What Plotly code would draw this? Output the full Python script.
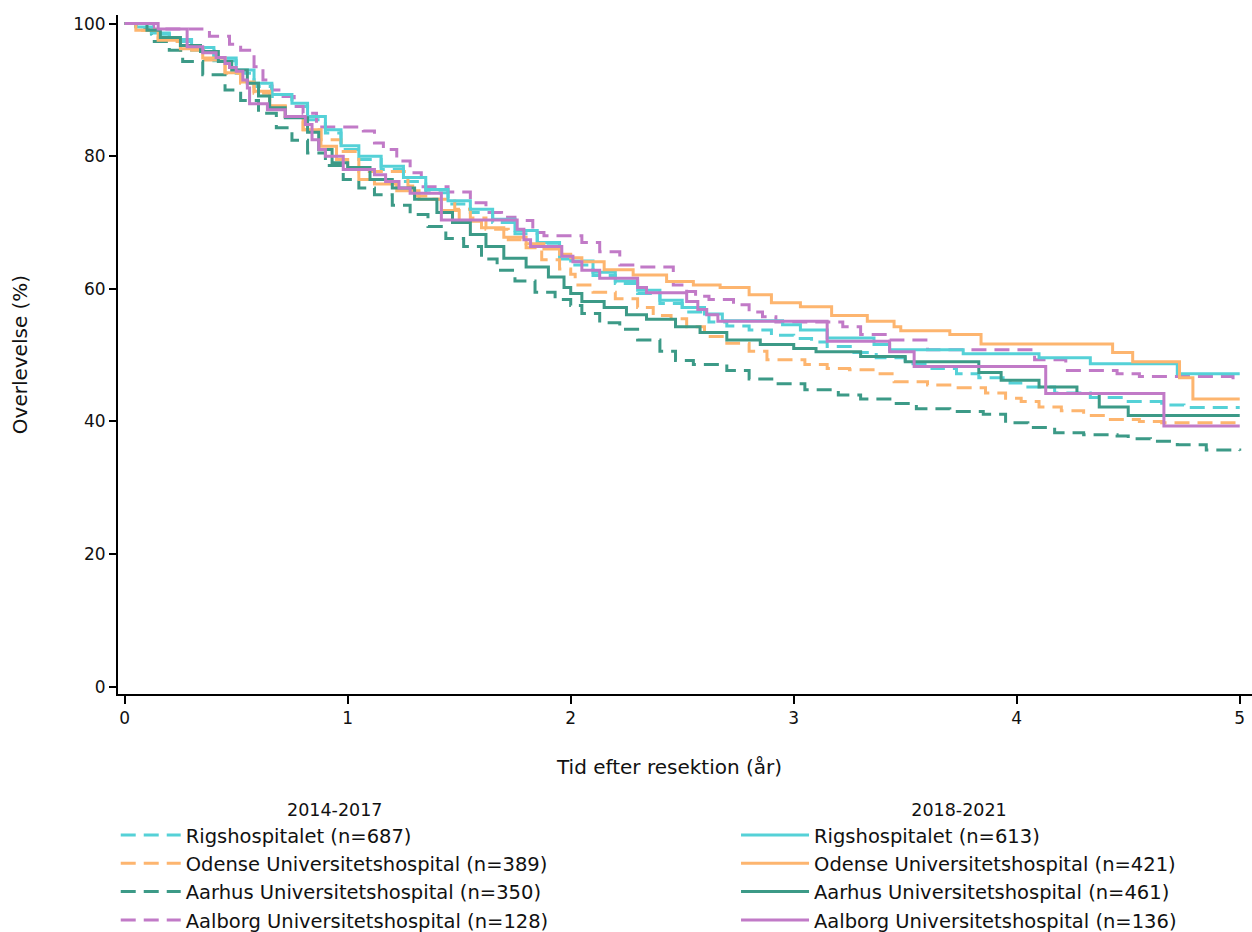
import plotly.graph_objects as go

# ---- data ----
labels_1417 = ["Rigshospitalet (n=687)", "Odense Universitetshospital (n=389)",
               "Aarhus Universitetshospital (n=350)", "Aalborg Universitetshospital (n=128)"]
labels_1821 = ["Rigshospitalet (n=613)", "Odense Universitetshospital (n=421)",
               "Aarhus Universitetshospital (n=461)", "Aalborg Universitetshospital (n=136)"]

rigs_1417_t = [0, 0.05, 0.12, 0.2, 0.3, 0.4, 0.5, 0.58, 0.66, 0.75, 0.82, 0.9, 0.97, 1.05, 1.15, 1.25, 1.35, 1.45, 1.55, 1.65, 1.75, 1.85, 1.95, 2.0, 2.1, 2.2, 2.3, 2.4, 2.5, 2.62, 2.7, 2.8, 2.9, 3.0, 3.08, 3.15, 3.27, 3.37, 3.5, 3.62, 3.73, 3.83, 3.97, 4.05, 4.17, 4.33, 4.5, 4.65, 4.75, 5.0]
rigs_1417_s = [100, 99.3, 98.4, 97.3, 96.0, 94.4, 92.5, 90.5, 89.0, 87.5, 85.5, 83.5, 81.0, 79.5, 78.0, 76.2, 74.5, 72.8, 71.5, 70.0, 68.3, 66.5, 64.5, 63.6, 62.0, 60.8, 59.3, 57.8, 56.5, 55.0, 54.4, 53.8, 53.0, 52.5, 52.0, 51.3, 50.4, 49.6, 48.7, 48.0, 47.2, 46.6, 45.8, 45.2, 44.3, 43.6, 43.0, 42.5, 42.1, 42.1]

odense_1417_t = [0, 0.05, 0.15, 0.25, 0.35, 0.45, 0.52, 0.58, 0.65, 0.72, 0.8, 0.88, 0.97, 1.05, 1.27, 1.3, 1.38, 1.48, 1.55, 1.62, 1.72, 1.8, 1.87, 1.95, 2.0, 2.02, 2.1, 2.2, 2.3, 2.37, 2.45, 2.52, 2.6, 2.7, 2.8, 2.88, 3.05, 3.15, 3.25, 3.38, 3.45, 3.6, 3.7, 3.86, 3.95, 4.02, 4.1, 4.2, 4.3, 4.42, 4.55, 4.65, 5.0]
odense_1417_s = [100, 99.0, 97.3, 96.0, 94.5, 92.5, 91.0, 89.5, 87.5, 86.0, 84.0, 82.5, 80.7, 77.7, 75.5, 74.0, 73.5, 72.0, 70.7, 69.0, 67.4, 66.2, 64.4, 63.0, 62.2, 60.6, 59.5, 58.5, 57.2, 56.0, 55.5, 54.3, 52.8, 51.8, 50.6, 49.3, 48.6, 48.0, 47.8, 47.2, 46.0, 45.5, 45.1, 44.3, 43.5, 43.0, 42.2, 41.6, 40.9, 40.3, 40.0, 39.8, 39.6]

aarhus_1417_t = [0, 0.05, 0.12, 0.2, 0.26, 0.35, 0.45, 0.52, 0.6, 0.68, 0.75, 0.82, 0.9, 0.98, 1.05, 1.12, 1.2, 1.28, 1.36, 1.44, 1.52, 1.6, 1.67, 1.75, 1.84, 1.93, 2.0, 2.05, 2.13, 2.22, 2.3, 2.4, 2.47, 2.55, 2.7, 2.8, 2.92, 3.05, 3.2, 3.3, 3.45, 3.55, 3.7, 3.85, 3.95, 4.05, 4.17, 4.3, 4.45, 4.5, 4.6, 4.72, 4.85, 5.0]
aarhus_1417_s = [100, 99.4, 97.3, 96.0, 94.3, 92.3, 90.0, 88.4, 86.5, 84.3, 82.4, 80.5, 78.6, 76.5, 75.2, 74.2, 72.6, 71.2, 69.4, 67.6, 66.4, 64.5, 62.8, 61.2, 59.5, 58.4, 57.5, 56.3, 54.9, 53.9, 52.3, 50.6, 49.2, 48.6, 47.7, 46.4, 45.7, 44.8, 44.0, 43.4, 42.7, 41.9, 41.5, 41.1, 39.8, 39.1, 38.3, 38.0, 37.8, 37.4, 37.0, 36.5, 35.7, 35.6]

aalborg_1417_t = [0, 0.13, 0.38, 0.47, 0.52, 0.58, 0.62, 0.66, 0.70, 0.76, 0.80, 0.86, 1.07, 1.12, 1.16, 1.22, 1.28, 1.33, 1.45, 1.55, 1.62, 1.69, 1.75, 1.83, 1.88, 2.05, 2.13, 2.22, 2.30, 2.46, 2.52, 2.56, 2.62, 2.73, 2.80, 2.86, 2.92, 3.22, 3.3, 3.43, 3.6, 4.08, 4.22, 4.45, 4.55, 4.97, 5.0]
aalborg_1417_s = [100, 99.2, 98.1, 96.9, 96.0, 93.5, 91.5, 90.0, 89.0, 87.5, 86.5, 84.4, 83.8, 82.0, 81.0, 79.3, 77.5, 75.4, 74.6, 73.0, 71.5, 70.8, 70.3, 68.5, 68.0, 67.0, 65.6, 63.6, 63.3, 60.6, 59.6, 58.9, 58.4, 57.6, 56.5, 55.8, 55.0, 54.3, 53.1, 52.3, 50.8, 49.3, 47.7, 47.2, 46.8, 46.2, 46.2]

rigs_1821_t = [0, 0.05, 0.12, 0.2, 0.3, 0.4, 0.5, 0.58, 0.66, 0.75, 0.82, 0.9, 0.97, 1.05, 1.15, 1.25, 1.35, 1.45, 1.55, 1.65, 1.75, 1.85, 1.95, 2.0, 2.1, 2.2, 2.3, 2.4, 2.5, 2.6, 2.68, 2.95, 3.03, 3.15, 3.36, 3.43, 3.76, 4.1, 4.33, 4.72, 5.0]
rigs_1821_s = [100, 99.5, 98.6, 97.6, 96.4, 94.8, 93.0, 91.0, 89.3, 88.0, 86.0, 84.0, 81.6, 80.0, 78.5, 76.8, 75.0, 73.3, 72.0, 70.5, 68.8, 67.0, 65.0, 64.2, 62.5, 61.2, 59.8, 58.3, 57.2, 56.2, 55.2, 54.6, 53.8, 52.6, 51.6, 50.8, 50.2, 49.6, 48.7, 47.2, 47.2]

odense_1821_t = [0, 0.05, 0.15, 0.25, 0.35, 0.45, 0.52, 0.58, 0.65, 0.72, 0.8, 0.88, 0.95, 1.0, 1.05, 1.12, 1.22, 1.32, 1.42, 1.5, 1.6, 1.7, 1.8, 1.88, 1.95, 2.0, 2.05, 2.15, 2.28, 2.43, 2.55, 2.67, 2.8, 2.9, 3.03, 3.17, 3.33, 3.45, 3.48, 3.7, 3.84, 4.43, 4.52, 4.73, 4.79, 5.0]
odense_1821_s = [100, 99.0, 97.5, 96.2, 94.8, 92.6, 91.2, 89.8, 87.6, 86.0, 84.0, 81.5, 79.5, 78.0, 76.5, 75.8, 74.8, 73.5, 71.8, 70.2, 69.2, 67.8, 66.8, 66.0, 65.2, 64.7, 64.1, 62.9, 62.1, 61.1, 60.6, 60.2, 59.1, 57.9, 57.3, 56.0, 55.1, 54.3, 53.7, 53.1, 51.7, 50.4, 49.0, 46.6, 43.4, 43.4]

aarhus_1821_t = [0, 0.1, 0.16, 0.25, 0.34, 0.42, 0.48, 0.55, 0.6, 0.65, 0.72, 0.82, 0.87, 0.93, 1.0, 1.1, 1.2, 1.3, 1.4, 1.47, 1.55, 1.62, 1.7, 1.8, 1.9, 1.97, 2.0, 2.05, 2.15, 2.25, 2.34, 2.47, 2.58, 2.7, 2.85, 3.0, 3.1, 3.3, 3.5, 3.83, 3.93, 4.1, 4.27, 4.37, 4.5, 5.0]
aarhus_1821_s = [100, 99.0, 97.9, 96.7, 95.8, 94.3, 93.0, 91.0, 89.1, 87.3, 85.8, 83.6, 81.0, 79.0, 78.3, 76.5, 75.2, 73.5, 71.5, 70.0, 68.2, 66.4, 64.6, 63.3, 61.8, 60.2, 59.3, 58.1, 57.2, 56.1, 55.4, 54.3, 53.4, 52.3, 51.6, 51.0, 50.5, 49.8, 49.0, 47.4, 46.2, 45.2, 44.2, 42.2, 40.9, 40.9]

aalborg_1821_t = [0, 0.15, 0.28, 0.35, 0.41, 0.45, 0.47, 0.50, 0.53, 0.55, 0.56, 0.64, 0.72, 0.81, 0.84, 0.87, 0.90, 0.98, 1.12, 1.17, 1.23, 1.28, 1.42, 1.76, 1.79, 1.82, 1.96, 2.01, 2.05, 2.13, 2.30, 2.34, 2.52, 2.57, 2.61, 2.66, 3.15, 3.43, 3.54, 4.13, 4.66, 5.0]
aalborg_1821_s = [100, 99.2, 96.5, 95.6, 94.9, 94.0, 93.4, 92.8, 91.5, 90.3, 87.9, 87.0, 86.0, 84.8, 82.5, 81.0, 80.0, 78.0, 77.2, 76.2, 75.2, 74.4, 70.4, 69.0, 67.4, 66.4, 64.9, 64.1, 62.8, 61.6, 60.2, 59.4, 58.1, 56.9, 56.1, 55.1, 52.1, 50.5, 48.3, 44.2, 39.3, 39.3]

x_ticks = [0, 1, 2, 3, 4, 5]
y_ticks = [0, 20, 40, 60, 80, 100]

colors = ["#55D1D7", "#FDB56F", "#3C9A87", "#C17AC7"]
series_1417 = [(rigs_1417_t, rigs_1417_s), (odense_1417_t, odense_1417_s),
               (aarhus_1417_t, aarhus_1417_s), (aalborg_1417_t, aalborg_1417_s)]
series_1821 = [(rigs_1821_t, rigs_1821_s), (odense_1821_t, odense_1821_s),
               (aarhus_1821_t, aarhus_1821_s), (aalborg_1821_t, aalborg_1821_s)]

FONT = "DejaVu Sans"
TXT = "#111111"
fig = go.Figure()

for (t, s), lab, c in zip(series_1417, labels_1417, colors):
    fig.add_trace(go.Scatter(x=t, y=s, mode="lines", name=lab, legend="legend",
                             line=dict(color=c, width=3, shape="hv", dash="15px,8px")))
for (t, s), lab, c in zip(series_1821, labels_1821, colors):
    fig.add_trace(go.Scatter(x=t, y=s, mode="lines", name=lab, legend="legend2",
                             line=dict(color=c, width=3, shape="hv")))

legend_common = dict(
    orientation="v", yanchor="top", xanchor="left",
    font=dict(family=FONT, size=19.5, color=TXT),
    tracegroupgap=0, bgcolor="rgba(0,0,0,0)",
    itemclick=False, itemdoubleclick=False,
)

fig.update_layout(
    width=1252, height=932,
    margin=dict(l=118, r=0, t=15, b=238, autoexpand=False),
    paper_bgcolor="white", plot_bgcolor="white",
    font=dict(family=FONT, size=17, color=TXT),
    xaxis=dict(range=[-0.03, 5.055], tickvals=x_ticks, ticks="outside", ticklen=8,
               tickwidth=1.5, tickcolor="black", showline=True, linecolor="black",
               linewidth=2, showgrid=False, zeroline=False, automargin=False,
               tickfont=dict(family=FONT, size=17, color=TXT)),
    yaxis=dict(range=[-1.1, 101.3], tickvals=y_ticks, ticks="outside", ticklen=7,
               tickwidth=1.5, tickcolor="black", showline=True, linecolor="black",
               linewidth=2, showgrid=False, zeroline=False, automargin=False,
               tickfont=dict(family=FONT, size=17, color=TXT),
               title=dict(text="Overlevelse (%)", font=dict(family=FONT, size=20, color=TXT), standoff=40)),
    annotations=[dict(text="Tid efter resektion (år)", xref="paper", yref="paper",
                      x=(669 - 118) / 1134, y=-0.107, xanchor="center", yanchor="middle",
                      showarrow=False, font=dict(family=FONT, size=20, color=TXT))],
    legend=dict(x=-0.002, y=-0.1458, itemwidth=60,
                title=dict(text="2014-2017", side="top center", font=dict(family=FONT, size=17.5, color=TXT)),
                **legend_common),
    legend2=dict(x=0.545, y=-0.1458, itemwidth=68,
                 title=dict(text="2018-2021", side="top center", font=dict(family=FONT, size=17.5, color=TXT)),
                 **legend_common),
    showlegend=True,
)

fig.write_html("out.html")
